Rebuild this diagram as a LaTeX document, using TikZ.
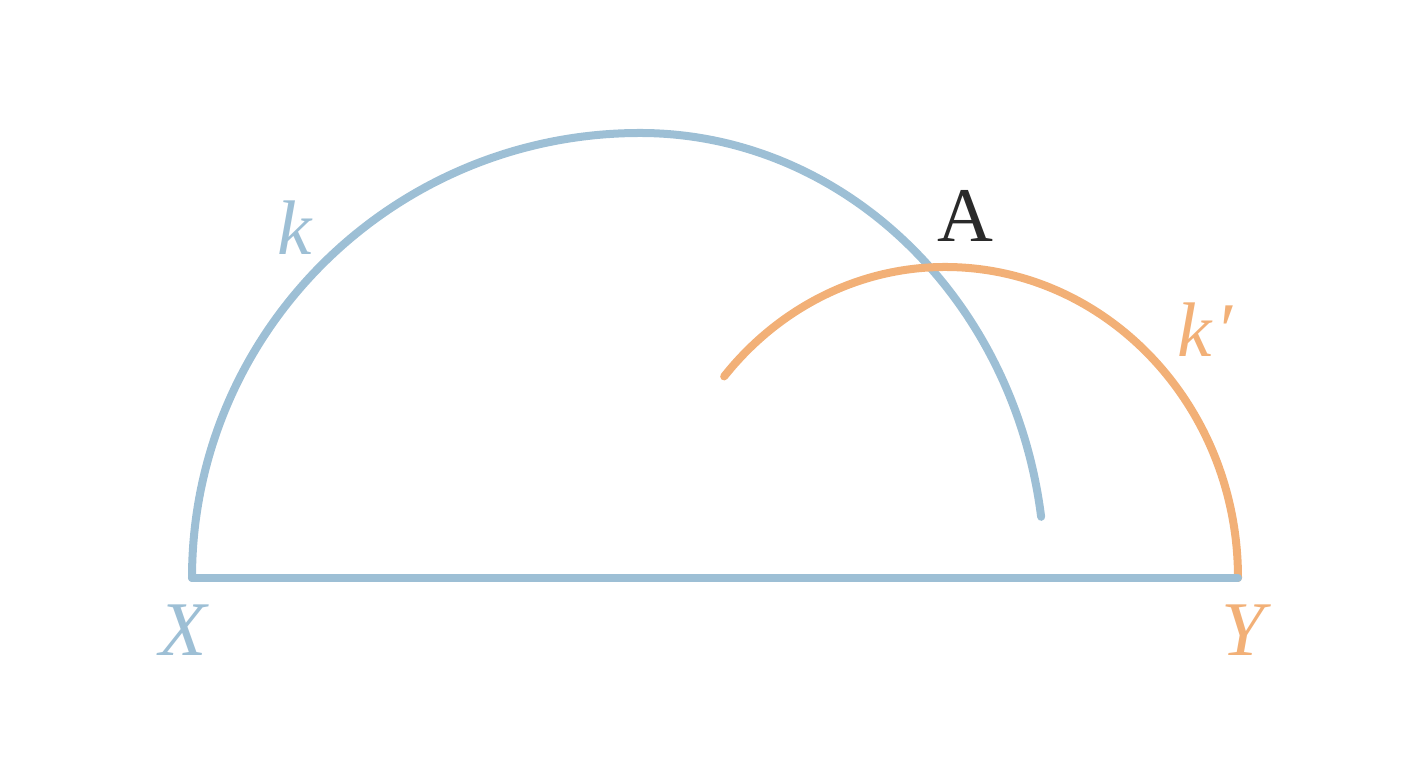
\documentclass[tikz,border=0pt]{standalone}
\usepackage{fontspec}
\setmainfont{Liberation Serif}
\usepackage{xcolor}
\definecolor{arcblue}{HTML}{9DBFD5}
\definecolor{arcorange}{HTML}{F2B077}
\definecolor{pointgray}{HTML}{2A2A2A}
\tikzset{
  arc/.style={line width=0.08cm, line cap=round, line join=round},
  lbl/.style={font=\fontsize{22}{26}\selectfont\itshape, inner sep=0pt}
}
\begin{document}
\begin{tikzpicture}[x=0.01cm, y=-0.01cm]
  \useasboundingbox (0,0) rectangle (1408,768);
  \coordinate (Xp) at (192,578);
  \coordinate (Yp) at (1238,578);
  \coordinate (Kc) at (640,578);
  \coordinate (Kpc) at (945,578);

  % circle k
  \draw[arc, arcblue] (Xp) arc[start angle=180, end angle=270, x radius=448, y radius=445]
    arc[start angle=270, end angle=352.1, x radius=405, y radius=445];
  % circle k'
  \draw[arc, arcorange] (Kpc) ++(220.4:290 and 311)
    arc[start angle=220.4, end angle=270, x radius=290, y radius=311]
    arc[start angle=270, end angle=360, x radius=293, y radius=311];
  \draw[arc, arcblue] (Xp) -- (Yp);

  \node[lbl, arcblue] (X) at (183,630) {X};
  \node[lbl, arcorange] (Y) at (1243,630) {Y};
  \node[lbl, arcblue] (k) at (295,228) {k};
  \node[lbl, arcorange] (kp) at (1205,330) {k\kern1pt′};
  \node[lbl, pointgray, font=\fontsize{22}{26}\selectfont\upshape] (A) at (965,216) {A};
\end{tikzpicture}
\end{document}
